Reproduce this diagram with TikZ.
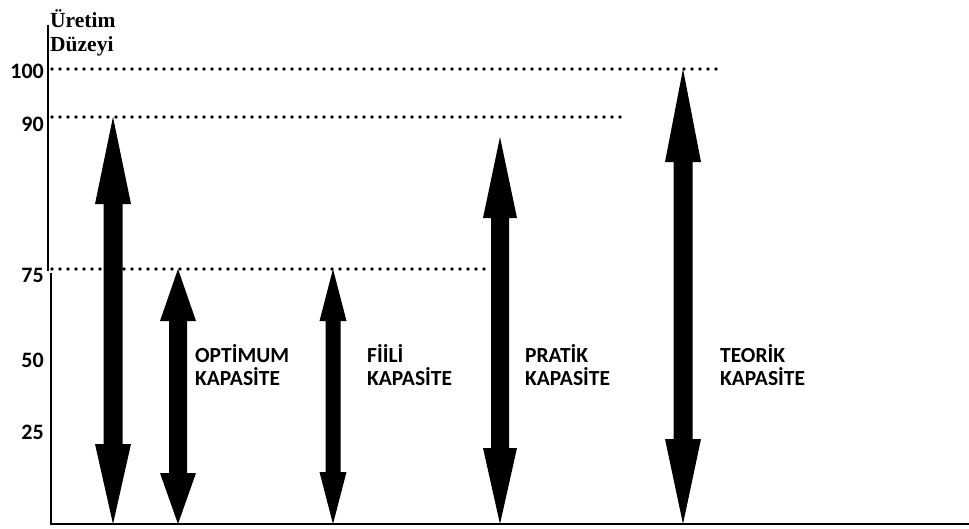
\documentclass[tikz,border=0pt]{standalone}
\usepackage{fontspec}
\setmainfont{Carlito}
\newfontfamily\titlefont{Liberation Serif}
\begin{document}
\begin{tikzpicture}[x=1pt,y=-1pt,
  axisline/.style={line width=2pt,black},
  levelline/.style={line width=3.8pt,dash pattern=on 0pt off 8pt,line cap=round},
  ticklabel/.style={anchor=base east,inner sep=0pt,font=\fontsize{22}{24}\selectfont\bfseries},
  caplabel/.style={anchor=base west,inner sep=0pt,align=left,font=\fontsize{21.5}{23}\selectfont\bfseries},
  arrowfill/.style={fill=black,draw=none}]
\useasboundingbox (0,0) rectangle (969,528);

% axis title (base anchor sits on the last line)
\node[anchor=base west,inner sep=0pt,align=left,font=\titlefont\fontsize{21.5}{24}\selectfont\bfseries] (title) at (50,51) {Üretim\\Düzeyi};

% axes
\draw[axisline] (48,25) -- (48,271);
\draw[axisline] (51,273) -- (51,524) -- (969,524);

% level lines
\coordinate (l100s) at (52,69);  \coordinate (l100e) at (720,69);
\coordinate (l90s)  at (52,117); \coordinate (l90e)  at (622,117);
\coordinate (l75s)  at (52,269); \coordinate (l75e)  at (490,269);
\draw[levelline] (l100s) -- (l100e);
\draw[levelline] (l90s) -- (l90e);
\draw[levelline] (l75s) -- (l75e);

% tick labels
\node[ticklabel] (t100) at (44,78) {100};
\node[ticklabel] (t90)  at (44,131) {90};
\node[ticklabel] (t75)  at (44,282) {75};
\node[ticklabel] (t50)  at (44,367) {50};
\node[ticklabel] (t25)  at (44,439) {25};

% double block arrow: #1 x, #2 top tip, #3 top head base, #4 bottom head base,
% #5 bottom tip, #6 half head width, #7 half shaft width
\newcommand\blockarrow[7]{%
  \fill[arrowfill] (#1,#2) -- (#1+#6,#3) -- (#1+#7,#3) -- (#1+#7,#4) -- (#1+#6,#4)
    -- (#1,#5) -- (#1-#6,#4) -- (#1-#7,#4) -- (#1-#7,#3) -- (#1-#6,#3) -- cycle;}

\blockarrow{113}{117}{204}{444}{524}{18}{9.5}
\blockarrow{178}{269}{321}{473}{524}{18}{9}
\blockarrow{333}{269}{321}{472}{524}{13.5}{7.5}
\blockarrow{500}{137}{218}{448}{524}{17}{9}
\blockarrow{683}{69}{162}{439}{524}{18}{9.5}

% capacity labels (base anchor sits on the second line)
\node[caplabel] (opt) at (195,385) {OPTİMUM\\KAPASİTE};
\node[caplabel] (fii) at (367,385) {FİİLİ\\KAPASİTE};
\node[caplabel] (pra) at (525,385) {PRATİK\\KAPASİTE};
\node[caplabel] (teo) at (720,385) {TEORİK\\KAPASİTE};
\end{tikzpicture}
\end{document}
